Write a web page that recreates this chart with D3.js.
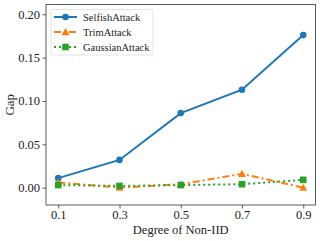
<!DOCTYPE html>
<html>
<head>
<meta charset="utf-8">
<script src="https://cdn.jsdelivr.net/npm/d3@7"></script>
<style>
  html, body { margin: 0; padding: 0; background: #fff; }
  svg { display: block; font-family: "Liberation Serif", "DejaVu Serif", serif; }
</style>
</head>
<body>
<svg id="chart" width="320" height="241"></svg>
<script>
// ─── Data ───────────────────────────────────────────
const degrees = [0.1, 0.3, 0.5, 0.7, 0.9];
const selfishAttack = [0.011, 0.032, 0.086, 0.113, 0.176];
const trimAttack = [0.006, 0.000, 0.004, 0.016, 0.000];
const gaussianAttack = [0.003, 0.002, 0.003, 0.004, 0.009];
const yTicks = [0.00, 0.05, 0.10, 0.15, 0.20];

const series = [
  { name: "SelfishAttack", values: selfishAttack, color: "#1f77b4", dash: null, marker: "circle" },
  { name: "TrimAttack", values: trimAttack, color: "#ff7f0e", dash: "7,3,2,3", marker: "triangle" },
  { name: "GaussianAttack", values: gaussianAttack, color: "#2ca02c", dash: "2,3", marker: "square" }
];

// ─── Layout ─────────────────────────────────────────
const margin = { left: 46, right: 4.5, top: 4.5, bottom: 36 };
const W = 320, H = 241;
const svg = d3.select("#chart");

const x = d3.scaleLinear().domain([0.06, 0.94]).range([margin.left, W - margin.right]);
const y = d3.scaleLinear().domain([-0.02, 0.2113]).range([H - margin.bottom, margin.top]);

const axisColor = "#333";

// Axes
const xAxis = svg.append("g")
  .attr("transform", `translate(0,${H - margin.bottom})`)
  .call(d3.axisBottom(x).tickValues(degrees).tickFormat(d3.format(".1f")).tickSize(3.5).tickPadding(2));
const yAxis = svg.append("g")
  .attr("transform", `translate(${margin.left},0)`)
  .call(d3.axisLeft(y).tickValues(yTicks).tickFormat(d3.format(".2f")).tickSize(3.5).tickPadding(2.5));

[xAxis, yAxis].forEach(g => {
  g.select(".domain").remove();
  g.selectAll("line").attr("stroke", axisColor).attr("stroke-width", 0.8);
  g.selectAll("text").attr("fill", "#222").style("font-size", "12.5px")
    .style("font-family", "'Liberation Serif', 'DejaVu Serif', serif");
});

// Frame
svg.append("rect")
  .attr("x", margin.left).attr("y", margin.top)
  .attr("width", W - margin.left - margin.right)
  .attr("height", H - margin.top - margin.bottom)
  .attr("fill", "none").attr("stroke", axisColor).attr("stroke-width", 0.8);

// Labels
svg.append("text")
  .attr("x", (margin.left + W - margin.right) / 2).attr("y", 234)
  .attr("text-anchor", "middle").attr("fill", "#222")
  .style("font-size", "12.5px").text("Degree of Non-IID");
svg.append("text")
  .attr("transform", `translate(14,${(margin.top + H - margin.bottom) / 2}) rotate(-90)`)
  .attr("text-anchor", "middle").attr("fill", "#222")
  .style("font-size", "13px").text("Gap");

// Markers
function drawMarker(g, m, cx, cy, color) {
  if (m === "circle") {
    g.append("circle").attr("cx", cx).attr("cy", cy).attr("r", 3.3).attr("fill", color);
  } else if (m === "triangle") {
    const s = 4;
    g.append("path")
      .attr("d", `M${cx},${cy - s} L${cx + s},${cy + s * 0.8} L${cx - s},${cy + s * 0.8} Z`)
      .attr("fill", color);
  } else {
    g.append("rect").attr("x", cx - 3.3).attr("y", cy - 3.3).attr("width", 6.6).attr("height", 6.6)
      .attr("fill", color);
  }
}

const line = d3.line().x((d, i) => x(degrees[i])).y(d => y(d));

series.forEach(s => {
  const g = svg.append("g");
  g.append("path")
    .attr("d", line(s.values))
    .attr("fill", "none")
    .attr("stroke", s.color)
    .attr("stroke-width", 2)
    .attr("stroke-dasharray", s.dash);
  s.values.forEach((v, i) => drawMarker(g, s.marker, x(degrees[i]), y(v), s.color));
});

// Legend
const legend = svg.append("g").attr("transform", "translate(51,9.5)");
legend.append("rect")
  .attr("width", 102).attr("height", 45.5).attr("rx", 2)
  .attr("fill", "#fff").attr("fill-opacity", 0.8)
  .attr("stroke", "#ddd").attr("stroke-width", 0.8);
series.forEach((s, i) => {
  const ly = 7.5 + i * 15;
  const gi = legend.append("g");
  gi.append("line")
    .attr("x1", 3).attr("x2", 26).attr("y1", ly).attr("y2", ly)
    .attr("stroke", s.color).attr("stroke-width", 2).attr("stroke-dasharray", s.dash);
  drawMarker(gi, s.marker, 14.5, ly, s.color);
  gi.append("text")
    .attr("x", 32).attr("y", ly + 3.8)
    .attr("fill", "#222").style("font-size", "10.5px").text(s.name);
});
</script>
</body>
</html>
